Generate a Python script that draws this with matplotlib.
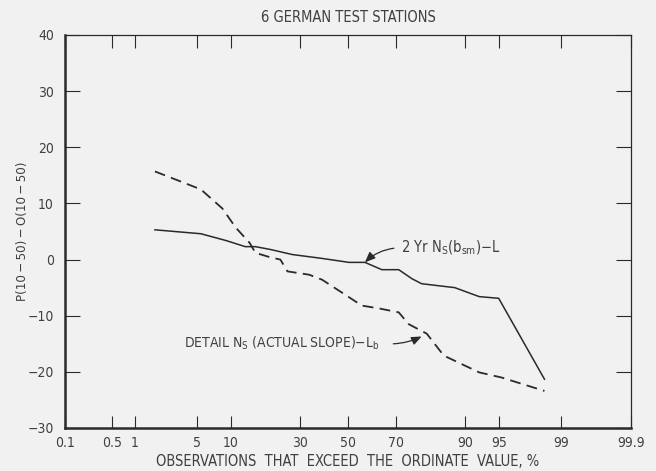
import numpy as np
import matplotlib
matplotlib.use("Agg")
import matplotlib.pyplot as plt
from statistics import NormalDist

# exceedance percentages and differences
pct_2yr = [1.75, 5.4, 9.1, 13.1, 15.6, 19.8, 27.1, 38.9, 50.4, 57.3,
           64.4, 71.0, 75.7, 78.9, 87.8, 92.4, 95.0, 98.4]
diff_2yr = [5.3, 4.6, 3.4, 2.3, 2.3, 1.8, 0.9, 0.2, -0.5, -0.5,
            -1.8, -1.8, -3.4, -4.3, -5.0, -6.6, -6.9, -21.3]

pct_detail = [1.75, 5.4, 8.5, 11.0, 14.1, 15.6, 19.8, 23.0, 25.4, 33.6,
              38.9, 47.4, 56.0, 63.2, 71.0, 74.6, 80.5, 85.2, 92.4, 95.3, 98.4]
diff_detail = [15.7, 12.5, 9.1, 5.7, 3.0, 1.2, 0.4, 0.0, -2.1, -2.7,
               -3.6, -5.9, -8.2, -8.7, -9.4, -11.5, -13.2, -17.1, -20.1, -21.0, -23.4]

xticks = [0.1, 0.5, 1, 5, 10, 30, 50, 70, 90, 95, 99, 99.9]
xticklabels = ["0.1", "0.5", "1", "5", "10", "30", "50", "70", "90", "95", "99", "99.9"]
yticks = [-30, -20, -10, 0, 10, 20, 30, 40]

_nd = NormalDist()
_ppf = np.vectorize(lambda p: _nd.inv_cdf(min(max(p / 100.0, 1e-9), 1 - 1e-9)),
                    otypes=[float])
_cdf = np.vectorize(lambda z: 100.0 * _nd.cdf(z), otypes=[float])


def forward(p):
    return _ppf(np.asarray(p, dtype=float))


def inverse(z):
    return _cdf(np.asarray(z, dtype=float))


bg = "#f1f1f1"
ink = "#2a2a2a"
txt = "#404040"

plt.rcParams["font.family"] = ["DejaVu Sans"]
plt.rcParams["font.stretch"] = "condensed"
plt.rcParams["mathtext.default"] = "regular"

fig = plt.figure(figsize=(6.56, 4.71), dpi=100, facecolor=bg)
ax = fig.add_axes([0.0991, 0.0913, 0.8629, 0.8344], facecolor=bg)
ax.set_xscale("function", functions=(forward, inverse))

ax.plot(pct_2yr, diff_2yr, color=ink, lw=1.1)
ax.plot(pct_detail, diff_detail, color=ink, lw=1.3, dashes=(6, 3.5))

ax.set_xlim(0.1, 99.9)
ax.set_ylim(-30, 40)
ax.set_xticks(xticks)
ax.set_xticklabels(xticklabels)
ax.xaxis.set_minor_locator(matplotlib.ticker.NullLocator())
ax.set_yticks(yticks)
ax.set_yticklabels([str(v).replace("-", "\u2212") for v in yticks])

ax.tick_params(axis="x", direction="in", length=9, width=0.8, color=ink,
               top=True, labelsize=10, labelcolor=txt, pad=6)
ax.tick_params(axis="y", direction="in", length=11, width=0.8, color=ink,
               right=True, labelsize=10, labelcolor=txt, pad=8)

for side in ["left", "bottom"]:
    ax.spines[side].set_linewidth(1.8)
    ax.spines[side].set_color(ink)
for side in ["top", "right"]:
    ax.spines[side].set_linewidth(0.9)
    ax.spines[side].set_color(ink)

ax.set_title("6 GERMAN TEST STATIONS", fontsize=10.5, color=txt, pad=9)
ax.set_xlabel("OBSERVATIONS  THAT  EXCEED  THE  ORDINATE  VALUE, %",
              fontsize=10.5, color=txt, labelpad=3)
th = "\u2009"
ax.set_ylabel(f"P(10{th}\u2212{th}50){th}\u2212{th}O(10{th}\u2212{th}50)",
              fontsize=9.5, color=txt, labelpad=-1)

arrow = dict(arrowstyle="-|>,head_length=0.6,head_width=0.25", color=ink,
             lw=0.9, shrinkA=3, shrinkB=0, relpos=(0, 0.5))
ax.annotate("2 Yr N$_S$(b$_{sm}$)\u2212L", xy=(57.3, -0.5), xytext=(71.8, 2.1),
            fontsize=10.5, color=txt, ha="left", va="center",
            arrowprops=dict(arrow, connectionstyle="arc3,rad=0.2"))

arrow2 = dict(arrow, relpos=(1, 0.5), shrinkA=8)
ax.annotate("DETAIL N$_S$ (ACTUAL SLOPE)\u2212L$_b$", xy=(78.9, -13.7),
            xytext=(3.65, -14.9), fontsize=10, color=txt, ha="left",
            va="center", arrowprops=dict(arrow2, connectionstyle="arc3,rad=0.15"))

fig.savefig("out.png", dpi=100, facecolor=bg)
